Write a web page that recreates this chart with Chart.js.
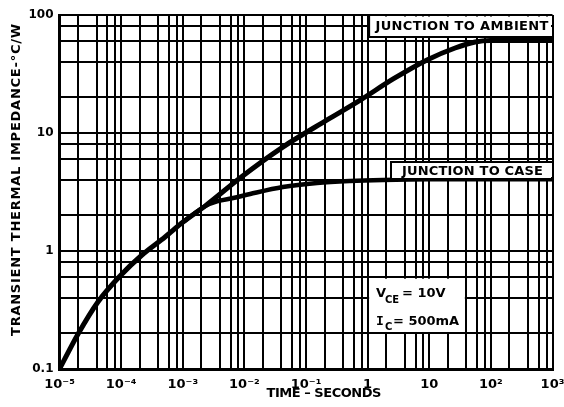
<!DOCTYPE html>
<html><head><meta charset="utf-8">
<script src="https://cdn.jsdelivr.net/npm/chart.js@4.4.1/dist/chart.umd.min.js"></script>
<style>html,body{margin:0;padding:0;background:#fff}#wrap{width:564px;height:407px}</style>
</head><body><div id="wrap"><canvas id="c" width="564" height="407"></canvas></div>
<script>
// ---- data ----
const ambientTime = [1e-5, 2e-5, 4.2e-5, 9.6e-5, 2.18e-4, 5.16e-4, 1.01e-3, 2.3e-3, 8.5e-3, 0.042, 0.22, 0.76, 2.6, 9.2, 26.3, 55.6, 97.5, 1000];
const ambientZ    = [0.1, 0.198, 0.37, 0.614, 0.925, 1.315, 1.76, 2.4, 4.16, 7.6, 12.9, 19.0, 28.7, 41.6, 52.5, 59.0, 60.8, 60.8];
const caseTime    = [1.01e-3, 2.3e-3, 3.6e-3, 6.6e-3, 0.0124, 0.042, 0.151, 0.52, 1.78, 10, 1000];
const caseZ       = [1.76, 2.4, 2.63, 2.81, 3.04, 3.48, 3.77, 3.92, 4.0, 4.05, 4.05];
const xDecades    = [-5, -4, -3, -2, -1, 0, 1, 2, 3];
const xTickLabels = ['10\u207B\u2075','10\u207B\u2074','10\u207B\u00B3','10\u207B\u00B2','10\u207B\u00B9','1','10','10\u00B2','10\u00B3'];
const yDecades    = [-1, 0, 1, 2];
const yTickLabels = ['0.1', '1', '10', '100'];
const gridSteps   = [1, 2, 4, 6, 8];

function gridTicks(decades){
  const out = [];
  decades.forEach((d, i) => {
    gridSteps.forEach(m => {
      if (i < decades.length - 1 || m === 1) out.push(m * Math.pow(10, d));
    });
  });
  return out;
}
function labelFor(decades, labels){
  return function(value){
    const e = Math.log10(value), r = Math.round(e);
    if (Math.abs(e - r) < 1e-6){ const i = decades.indexOf(r); return i >= 0 ? labels[i] : ''; }
    return '';
  };
}
const toPts = (xs, ys) => xs.map((x, i) => ({x: x, y: ys[i]}));

const FONT = '"DejaVu Sans", sans-serif';
function fitText(ctx, text, x, y, target, size){
  ctx.font = 'bold ' + size + 'px ' + FONT;
  ctx.letterSpacing = '0px';
  const w0 = ctx.measureText(text).width;
  const sp = (target - w0) / Math.max(1, text.length - 1);
  ctx.letterSpacing = sp.toFixed(2) + 'px';
  ctx.textAlign = 'left';
  ctx.textBaseline = 'middle';
  ctx.fillText(text, x - target / 2, y);
  ctx.letterSpacing = '0px';
}

const notes = {
  id: 'notes',
  afterDatasetsDraw(chart){
    const ctx = chart.ctx, xs = chart.scales.x, ys = chart.scales.y, a = chart.chartArea;
    ctx.save();
    ctx.fillStyle = '#fff'; ctx.strokeStyle = '#000'; ctx.lineWidth = 2;
    // Junction to ambient box
    const ax = xs.getPixelForValue(1) + 1.5;
    ctx.fillRect(ax, a.top + 1.5, a.right - ax - 1.5, 37 - a.top - 1.5);
    ctx.beginPath(); ctx.moveTo(ax, a.top); ctx.lineTo(ax, 37); ctx.lineTo(a.right, 37); ctx.stroke();
    // Junction to case box
    ctx.fillRect(391, 162, a.right - 391 - 1.5, 16);
    ctx.beginPath(); ctx.moveTo(391, 179); ctx.lineTo(391, 162); ctx.lineTo(a.right, 162); ctx.stroke();
    // conditions box (white gap in grid)
    const l = xs.getPixelForValue(1) + 1.5, r = xs.getPixelForValue(40) - 1.5;
    const t = ys.getPixelForValue(0.6) + 1.5, b = ys.getPixelForValue(0.2) - 1.5;
    ctx.fillRect(l, t, r - l, b - t);

    ctx.fillStyle = '#000';
    fitText(ctx, 'JUNCTION TO AMBIENT', 462, 27, 173, 13);
    fitText(ctx, 'JUNCTION TO CASE', 472.5, 171.5, 141, 13);

    ctx.textAlign = 'left'; ctx.textBaseline = 'alphabetic';
    ctx.font = 'bold 13px ' + FONT;
    ctx.fillText('V', 376, 297);
    ctx.font = 'bold 10px ' + FONT;
    ctx.fillText('CE', 385, 303);
    ctx.font = 'bold 13px ' + FONT;
    ctx.fillText('= 10V', 402, 297);
    ctx.font = 'bold 13px "DejaVu Sans Mono", monospace';
    ctx.fillText('I', 376, 325);
    ctx.font = 'bold 10px ' + FONT;
    ctx.fillText('C', 385, 330);
    ctx.font = 'bold 13px ' + FONT;
    ctx.fillText('= 500mA', 393, 325);

    // axis titles
    fitText(ctx, 'TIME \u2013 SECONDS', 324, 394, 115, 13);
    ctx.save();
    ctx.translate(17, 180);
    ctx.rotate(-Math.PI / 2);
    fitText(ctx, 'TRANSIENT THERMAL IMPEDANCE-\u00B0C/W', 0, 0, 312, 13);
    ctx.restore();
    ctx.restore();
  }
};

Chart.defaults.color = '#000';
Chart.defaults.font.family = FONT;

new Chart(document.getElementById('c'), {
  type: 'line',
  data: {
    datasets: [
      { label: 'Junction to ambient', data: toPts(ambientTime, ambientZ), borderColor: '#000', borderWidth: 5,
        pointRadius: 0, cubicInterpolationMode: 'monotone', fill: false },
      { label: 'Junction to case', data: toPts(caseTime, caseZ), borderColor: '#000', borderWidth: 4.5,
        pointRadius: 0, cubicInterpolationMode: 'monotone', fill: false }
    ]
  },
  options: {
    responsive: false,
    animation: false,
    devicePixelRatio: 1,
    layout: { padding: { top: 15, right: 11.5, left: 0, bottom: 0 } },
    plugins: { legend: { display: false }, tooltip: { enabled: false } },
    scales: {
      x: {
        type: 'logarithmic', min: 1e-5, max: 1e3,
        afterBuildTicks: s => { s.ticks = gridTicks(xDecades).map(v => ({ value: v })); },
        afterFit: s => { s.height = 38; s.paddingLeft = 0; s.paddingRight = 0; },
        ticks: { callback: labelFor(xDecades, xTickLabels), autoSkip: false, maxRotation: 0, minRotation: 0,
                 padding: 8, font: { size: 13, weight: 'bold' }, color: '#000' },
        grid: { color: '#000', lineWidth: 2, drawTicks: false },
        border: { display: true, color: '#000', width: 3 }
      },
      y: {
        type: 'logarithmic', min: 0.1, max: 100,
        afterBuildTicks: s => { s.ticks = gridTicks(yDecades).map(v => ({ value: v })); },
        afterFit: s => { s.width = 59.5; s.paddingTop = 0; s.paddingBottom = 0; },
        ticks: { callback: labelFor(yDecades, yTickLabels), autoSkip: false,
                 padding: 6, font: { size: 12, weight: 'bold' }, color: '#000' },
        grid: { color: '#000', lineWidth: 2, drawTicks: false },
        border: { display: true, color: '#000', width: 3 }
      }
    }
  },
  plugins: [notes]
});
</script>
</body></html>
